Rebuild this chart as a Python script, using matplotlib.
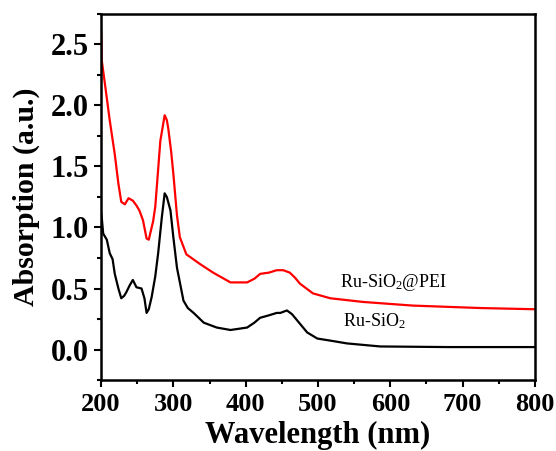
import matplotlib
matplotlib.use("Agg")
import matplotlib.pyplot as plt
from matplotlib.ticker import MultipleLocator, FormatStrFormatter

# Values
wl_black = [200, 201, 203, 208, 212, 216, 219, 224, 228, 232, 235, 240, 244, 249, 256, 260, 263, 266, 270,
            275, 279, 284, 288, 291, 296, 300, 305, 314, 320, 328, 342, 360, 379, 402, 412, 420, 432,
            443, 448, 457, 464, 471, 485, 499, 520, 540, 586, 679, 800]
abs_black = [1.12, 1.08, 0.95, 0.90, 0.79, 0.74, 0.62, 0.50, 0.42, 0.44, 0.47, 0.53, 0.57, 0.51, 0.50, 0.42, 0.30, 0.33, 0.43,
             0.60, 0.79, 1.08, 1.28, 1.25, 1.14, 0.92, 0.67, 0.40, 0.34, 0.30, 0.22, 0.18, 0.16, 0.18, 0.22, 0.26, 0.28,
             0.30, 0.30, 0.32, 0.29, 0.24, 0.14, 0.09, 0.07, 0.05, 0.025, 0.02, 0.02]

wl_red = [200, 200.5, 201, 206, 212, 219, 224, 228, 233, 238, 244, 249, 253, 258, 261, 263, 266, 268, 272, 275,
          278, 282, 286, 288, 291, 293, 297, 300, 305, 309, 318, 337, 355, 379, 402, 412, 420, 432, 443, 452, 461, 468, 475,
          493, 517, 562, 631, 724, 800]
abs_red = [2.63, 2.55, 2.37, 2.15, 1.88, 1.60, 1.36, 1.21, 1.19, 1.24, 1.22, 1.18, 1.14, 1.06, 0.97, 0.91, 0.90, 0.95, 1.05, 1.17,
           1.40, 1.71, 1.85, 1.92, 1.88, 1.81, 1.62, 1.44, 1.10, 0.92, 0.78, 0.70, 0.63, 0.55, 0.55, 0.58, 0.62, 0.63, 0.65, 0.65, 0.63, 0.59, 0.54,
           0.46, 0.42, 0.39, 0.36, 0.34, 0.33]

plt.rcParams['font.family'] = ['Liberation Serif', 'DejaVu Serif']
plt.rcParams['mathtext.fontset'] = 'custom'
plt.rcParams['mathtext.rm'] = 'Liberation Serif'
plt.rcParams['mathtext.it'] = 'Liberation Serif:italic'
plt.rcParams['mathtext.bf'] = 'Liberation Serif:bold'

fig = plt.figure(figsize=(5.56, 4.51), dpi=100)
ax = fig.add_axes([0.1817, 0.1574, 0.7805, 0.8116])

ax.plot(wl_black, abs_black, color='black', lw=1.6)
ax.plot(wl_red, abs_red, color='#ff0000', lw=1.6)

ax.set_xlim(200, 800)
ax.set_ylim(-0.25, 2.75)
ax.xaxis.set_major_locator(MultipleLocator(100))
ax.xaxis.set_minor_locator(MultipleLocator(50))
ax.yaxis.set_major_locator(MultipleLocator(0.5))
ax.yaxis.set_minor_locator(MultipleLocator(0.25))
ax.yaxis.set_major_formatter(FormatStrFormatter('%.1f'))

ax.tick_params(which='both', direction='out', top=False, right=False, width=1.5)
ax.tick_params(which='major', length=5, pad=4)
ax.tick_params(which='minor', length=3)
ax.tick_params(axis='x', labelsize=19)
ax.tick_params(axis='y', labelsize=22)
for lab in ax.get_xticklabels() + ax.get_yticklabels():
    lab.set_fontweight('bold')
for sp in ax.spines.values():
    sp.set_linewidth(1.8)

ax.set_xlabel('Wavelength (nm)', fontsize=22, fontweight='bold', labelpad=4)
ax.set_ylabel('Absorption (a.u.)', fontsize=21.5, fontweight='bold', labelpad=7)

ax.text(530, 0.55, r'Ru-SiO$_2$@PEI', fontsize=13, ha='left', va='center')
ax.text(535, 0.23, r'Ru-SiO$_2$', fontsize=13, ha='left', va='center')

fig.savefig('out.png', dpi=100)
